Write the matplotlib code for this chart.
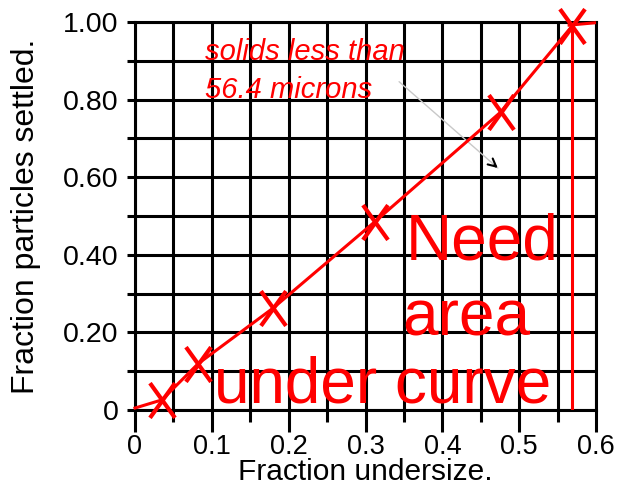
import numpy as np
import matplotlib.pyplot as plt
from matplotlib.path import Path
from matplotlib.ticker import FixedLocator, FixedFormatter

# data
frac_undersize = [0.035, 0.082, 0.180, 0.312, 0.476, 0.569]
frac_settled = [0.026, 0.119, 0.263, 0.485, 0.768, 0.990]

# hand drawn curve starts at the origin
curve_x = [0.0] + frac_undersize
curve_y = [0.005] + frac_settled

y_ticks = [0, 0.2, 0.4, 0.6, 0.8, 1.0]
y_labels = ['0', '0.20', '0.40', '0.60', '0.80', '1.00']
x_ticks = [0, 0.1, 0.2, 0.3, 0.4, 0.5, 0.6]
x_labels = ['0', '0.1', '0.2', '0.3', '0.4', '0.5', '0.6']

plt.rcParams['font.family'] = ['Liberation Sans', 'DejaVu Sans']
red = '#ff0000'
lw = 2.2

fig = plt.figure(figsize=(6.25, 4.9), dpi=100)
ax = fig.add_axes([0.216, 0.1633, 0.7376, 0.7917])
ax.set_xlim(0, 0.6)
ax.set_ylim(0, 1.0)

# grid
ax.xaxis.set_major_locator(FixedLocator(x_ticks))
ax.xaxis.set_minor_locator(FixedLocator(np.arange(0.05, 0.6, 0.1)))
ax.yaxis.set_major_locator(FixedLocator(y_ticks))
ax.yaxis.set_minor_locator(FixedLocator(np.arange(0.1, 1.0, 0.2)))
ax.xaxis.set_major_formatter(FixedFormatter(x_labels))
ax.yaxis.set_major_formatter(FixedFormatter(y_labels))
ax.grid(True, which='both', color='black', linewidth=lw)
ax.set_axisbelow(True)
for s in ax.spines.values():
    s.set_linewidth(lw)
ax.tick_params(axis='x', which='major', length=16, width=lw, pad=1, labelsize=19.5)
ax.tick_params(axis='x', which='minor', length=8.6, width=lw)
ax.tick_params(axis='y', which='both', length=5.8, width=lw, pad=6, labelsize=20.5)

ax.set_xlabel('Fraction undersize.', fontsize=21.5, labelpad=-1)
ax.set_ylabel('Fraction particles settled.', fontsize=23, labelpad=16)

# tall X marker
xm = Path([(-0.36, -0.5), (0.36, 0.5), (-0.36, 0.5), (0.36, -0.5)],
          [Path.MOVETO, Path.LINETO, Path.MOVETO, Path.LINETO])

ax.plot(curve_x, curve_y, color=red, linewidth=lw, clip_on=False, zorder=4)
ax.plot(frac_undersize, frac_settled, linestyle='none', marker=xm, markersize=25,
        markeredgewidth=3, color=red, clip_on=False, zorder=5)
ax.plot([frac_undersize[-1], frac_undersize[-1]], [0, frac_settled[-1]],
        color=red, linewidth=lw, zorder=4)
ax.plot([0.565, 0.598], [0.992, 0.998], color=red, linewidth=lw, clip_on=False, zorder=4)

# notes
ax.text(0.091, 0.923, 'solids less than', color=red, fontsize=21, style='italic',
        ha='left', va='center', zorder=6)
ax.text(0.091, 0.825, '56.4 microns', color=red, fontsize=21, style='italic',
        ha='left', va='center', zorder=6)
ax.annotate('', xy=(0.475, 0.619), xytext=(0.341, 0.851),
            arrowprops=dict(arrowstyle='-', color='#c8c8c8', linewidth=1))
ax.annotate('', xy=(0.475, 0.619), xytext=(0.465, 0.636),
            arrowprops=dict(arrowstyle='->', color='black', linewidth=1.5,
                            mutation_scale=14))

ax.text(0.352, 0.387, 'Need', color=red, fontsize=46, ha='left', va='baseline', zorder=6)
ax.text(0.348, 0.193, 'area', color=red, fontsize=46, ha='left', va='baseline', zorder=6)
ax.text(0.103, 0.02, 'under curve', color=red, fontsize=46, ha='left', va='baseline', zorder=6)

plt.savefig('out.png', dpi=100)
